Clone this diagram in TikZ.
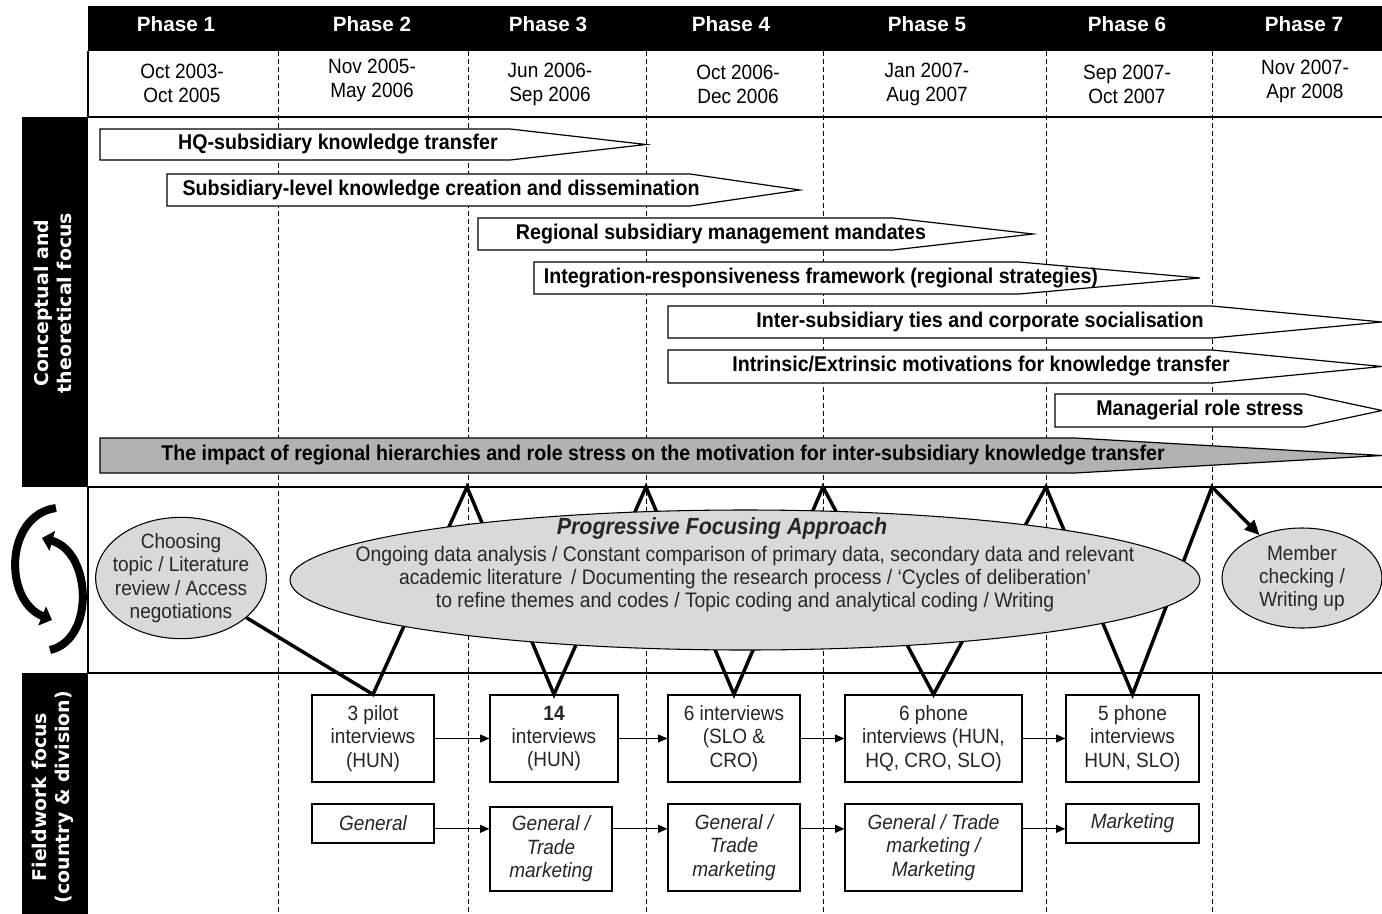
\documentclass[tikz,border=0pt]{standalone}
\usepackage{fontspec}
\setmainfont{Liberation Sans}
\newfontfamily\narrowfont[FakeStretch=0.92]{Liberation Sans}
\newfontfamily\sidefont{DejaVu Sans}
\usetikzlibrary{shapes.geometric,arrows.meta}

\tikzset{
  phase/.style={text=white,font=\bfseries\fontsize{15.5}{18}\selectfont},
  datetxt/.style={align=center,font=\narrowfont\fontsize{15.5}{18}\selectfont},
  cpt/.style={draw,line width=0.9pt,fill=white},
  cptgrey/.style={cpt,fill=gray!60},
  cpttxt/.style={font=\narrowfont\bfseries\fontsize{16}{18}\selectfont},
  side/.style={rotate=90,text=white,align=center,font=\sidefont\bfseries\fontsize{14.2}{17.5}\selectfont},
  bubble/.style={draw,ellipse,fill=gray!30,line width=0.8pt,inner sep=0pt,align=center,
    text=black!85,font=\narrowfont\fontsize{15.5}{17.5}\selectfont},
  ibox/.style={draw,line width=0.9pt,fill=white,align=center,inner sep=0pt,
    text=black!85,font=\narrowfont\fontsize{15.5}{17.6}\selectfont},
  dbox/.style={ibox,font=\narrowfont\itshape\fontsize{15.5}{17.6}\selectfont},
  flow/.style={-{Triangle[length=7pt,width=6pt]},line width=0.8pt},
  zig/.style={line width=2.6pt},
  cyc/.style={line width=6pt,-{Triangle[length=8pt,width=15pt]}},
}

\begin{document}
\begin{tikzpicture}[x=0.75pt,y=-0.75pt]
  \useasboundingbox (0,0) rectangle (1382,914);
  % frame of the table
  \fill (88,6) rectangle (1382,51);
  \fill (22,117) rectangle (88,487);
  \fill (22,673) rectangle (88,914);
  \draw[dashed,line width=0.7pt,dash pattern=on 3.75pt off 2.25pt]
    (278,51) -- (278,914) (468,51) -- (468,914) (646,51) -- (646,914)
    (823,51) -- (823,914) (1046,51) -- (1046,914) (1212,51) -- (1212,914);
  \draw[line width=1.1pt] (88,51) -- (88,117) -- (1382,117);
  \draw[line width=1.1pt] (88,487) -- (1382,487) (88,487) -- (88,673) (88,673) -- (1382,673);

  % phases and dates
  \node[phase] (ph1) at (176,24) {Phase 1};
  \node[phase] (ph2) at (372,24) {Phase 2};
  \node[phase] (ph3) at (548,24) {Phase 3};
  \node[phase] (ph4) at (731,24) {Phase 4};
  \node[phase] (ph5) at (927,24) {Phase 5};
  \node[phase] (ph6) at (1127,24) {Phase 6};
  \node[phase] (ph7) at (1304,24) {Phase 7};
  \node[datetxt] (d1) at (182,83) {Oct 2003-\\Oct 2005};
  \node[datetxt] (d2) at (372,80.5) {Nov 2005-\\May 2006};
  \node[datetxt] (d3) at (550,84) {Jun 2006-\\Sep 2006};
  \node[datetxt] (d4) at (738,84) {Oct 2006-\\Dec 2006};
  \node[datetxt] (d5) at (927,84) {Jan 2007-\\Aug 2007};
  \node[datetxt] (d6) at (1127,84) {Sep 2007-\\Oct 2007};
  \node[datetxt] (d7) at (1305,81) {Nov 2007-\\Apr 2008};

  % side labels
  \node[side] (lblcon) at (53,303) {Conceptual and\\theoretical focus};
  \node[side] (lblfld) at (53,797) {Fieldwork focus\\(country \& division)};

  % conceptual and theoretical focus
  \draw[cpt] (100,129) -- (510,129) -- (646,144.5) -- (510,160) -- (100,160) -- cycle;
  \node[cpttxt] (hq) at (338,144.5) {HQ-subsidiary knowledge transfer};
  \draw[cpt] (167,174) -- (690,174) -- (800,190) -- (690,206) -- (167,206) -- cycle;
  \node[cpttxt] (sub) at (441,190) {Subsidiary-level knowledge creation and dissemination};
  \draw[cpt] (478,218) -- (893,218) -- (1033,234) -- (893,250) -- (478,250) -- cycle;
  \node[cpttxt] (reg) at (721,234) {Regional subsidiary management mandates};
  \draw[cpt] (534,262) -- (1019,262) -- (1200,278) -- (1019,294) -- (534,294) -- cycle;
  \node[cpttxt] (ir) at (821,278) {Integration-responsiveness framework (regional strategies)};
  \draw[cpt] (668,306) -- (1212,306) -- (1382,322) -- (1212,338) -- (668,338) -- cycle;
  \node[cpttxt] (ties) at (980,322) {Inter-subsidiary ties and corporate socialisation};
  \draw[cpt] (668,350) -- (1212,350) -- (1382,366.5) -- (1212,383) -- (668,383) -- cycle;
  \node[cpttxt] (motiv) at (981,366.5) {Intrinsic/Extrinsic motivations for knowledge transfer};
  \draw[cpt] (1055,394) -- (1305,394) -- (1382,410.5) -- (1305,427) -- (1055,427) -- cycle;
  \node[cpttxt] (stress) at (1200,410.5) {Managerial role stress};
  \draw[cptgrey] (100,438) -- (1075,438) -- (1382,455.5) -- (1075,473) -- (100,473) -- cycle;
  \node[cpttxt] (impact) at (663,455.5) {The impact of regional hierarchies and role stress on the motivation for inter-subsidiary knowledge transfer};

  % cycle icon
  \draw[cyc] (56,508) .. controls (5,515) and (3,600) .. (52,620);
  \draw[cyc] (50,650) .. controls (95,640) and (92,552) .. (42,538);

  % fieldwork boxes
  \node[ibox,minimum width=91.5pt,minimum height=65.25pt] (b1) at (373,738.5) {3 pilot\\interviews\\(HUN)};
  \node[ibox,minimum width=96pt,minimum height=65.25pt] (b2) at (554,738.5) {\textbf{14}\\interviews\\(HUN)};
  \node[ibox,minimum width=99pt,minimum height=65.25pt] (b3) at (734,738.5) {6 interviews\\(SLO \&\\CRO)};
  \node[ibox,minimum width=132.75pt,minimum height=65.25pt] (b4) at (933.5,738.5) {6 phone\\interviews (HUN,\\HQ, CRO, SLO)};
  \node[ibox,minimum width=99.75pt,minimum height=65.25pt] (b5) at (1132.5,738.5) {5 phone\\interviews\\HUN, SLO)};
  \node[dbox,minimum width=91.5pt,minimum height=29.25pt] (c1) at (373,823.5) {General};
  \node[dbox,minimum width=91.5pt,minimum height=63pt] (c2) at (551,849) {General /\\Trade\\marketing};
  \node[dbox,minimum width=99pt,minimum height=65.25pt] (c3) at (734,847.5) {General /\\Trade\\marketing};
  \node[dbox,minimum width=132.75pt,minimum height=65.25pt] (c4) at (933.5,847.5) {General / Trade\\marketing /\\Marketing};
  \node[dbox,minimum width=99.75pt,minimum height=29.25pt] (c5) at (1132.5,823.5) {Marketing};
  \draw[flow] (b1) -- (b2);
  \draw[flow] (b2) -- (b3);
  \draw[flow] (b3) -- (b4);
  \draw[flow] (b4) -- (b5);
  \draw[flow] ([yshift=-4pt]c1.east) -- ([yshift=-4pt]c1.east -| c2.west);
  \draw[flow] ([yshift=-4pt]c1.east -| c2.east) -- ([yshift=-4pt]c1.east -| c3.west);
  \draw[flow] ([yshift=-4pt]c1.east -| c3.east) -- ([yshift=-4pt]c1.east -| c4.west);
  \draw[flow] ([yshift=-4pt]c1.east -| c4.east) -- ([yshift=-4pt]c1.east -| c5.west);

  % progressive focusing
  \node[bubble,inner xsep=-14pt,inner ysep=-10pt,minimum width=128pt,minimum height=91pt] (choose) at (181,578)
    {Choosing\\topic / Literature\\review / Access\\negotiations};
  \node[bubble,minimum width=120pt,minimum height=75pt] (member) at (1302,578) {Member\\checking /\\Writing up};
  \coordinate (p2) at (467,487);
  \coordinate (p4) at (646,487);
  \coordinate (p6) at (823,487);
  \coordinate (p8) at (1046,487);
  \coordinate (p10) at (1212,487);
  \draw[zig,-{Triangle[length=11pt,width=10pt]}] (choose) -- (b1.north) -- (p2) -- (b2.north)
    -- (p4) -- (b3.north) -- (p6) -- (b4.north) -- (p8) -- (b5.north) -- (p10) -- (member);
  \node[bubble,minimum width=682.5pt,minimum height=105pt] (pfa) at (745,580) {};
  \node[text=black!85,font=\narrowfont\bfseries\itshape\fontsize{17.5}{20}\selectfont] (pfatitle) at (722,528) {Progressive Focusing Approach};
  \node[align=center,text=black!85,font=\narrowfont\fontsize{15.75}{17.3}\selectfont] (pfabody) at (745,579)
    {Ongoing data analysis / Constant comparison of primary data, secondary data and relevant\\
     academic literature\, / Documenting the research process / ‘Cycles of deliberation’\\
     to refine themes and codes / Topic coding and analytical coding / Writing};
\end{tikzpicture}
\end{document}
